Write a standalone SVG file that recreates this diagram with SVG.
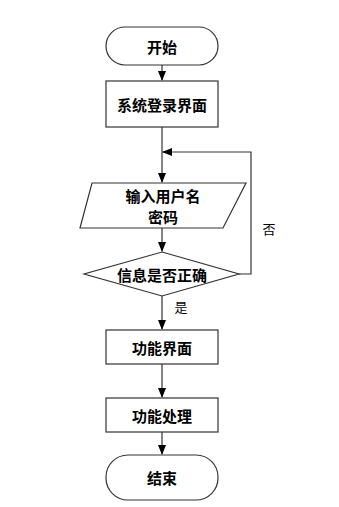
<svg xmlns="http://www.w3.org/2000/svg" width="339" height="507" viewBox="0 0 339 507">
<style>
.s{fill:#fff;stroke:#333;stroke-width:1.2}
.t{font-family:"Noto Sans CJK SC","Noto Sans",sans-serif;font-size:15px;font-weight:bold;fill:#000;text-anchor:middle;dominant-baseline:central}
.l{font-family:"Noto Sans CJK SC","Noto Sans",sans-serif;font-size:13px;fill:#000;text-anchor:middle;dominant-baseline:central}
.c{fill:none;stroke:#333;stroke-width:1.2}
</style>
<defs>
<marker id="a" markerWidth="10" markerHeight="10" refX="9" refY="5" orient="auto" markerUnits="userSpaceOnUse">
<path d="M0,1 L10,5 L0,9 Z" fill="#000"/>
</marker>
</defs>
<rect width="339" height="507" fill="#fff"/>
<g id="connectors">
<line class="c" x1="162" y1="65" x2="162" y2="80" marker-end="url(#a)"/>
<line class="c" x1="162" y1="127" x2="162" y2="182" marker-end="url(#a)"/>
<polyline class="c" points="239,274 251,274 251,152 163,152" marker-end="url(#a)"/>
<line class="c" x1="162" y1="228" x2="162" y2="251" marker-end="url(#a)"/>
<line class="c" x1="162" y1="296" x2="162" y2="329" marker-end="url(#a)"/>
<line class="c" x1="162" y1="364" x2="162" y2="397" marker-end="url(#a)"/>
<line class="c" x1="162" y1="432" x2="162" y2="454" marker-end="url(#a)"/>
<text class="l" x="269" y="228">否</text>
<text class="l" x="181" y="306">是</text>
</g>
<g id="start">
<rect class="s" x="106" y="27" width="112" height="38" rx="19"/>
<text class="t" x="162" y="46">开始</text>
</g>
<g id="login">
<rect class="s" x="106" y="81" width="112" height="46"/>
<text class="t" x="162" y="104">系统登录界面</text>
</g>
<g id="input">
<polygon class="s" points="92,183 246,183 223,228 80,228"/>
<text class="t" x="163" y="195">输入用户名</text>
<text class="t" x="163" y="216">密码</text>
</g>
<g id="check">
<polygon class="s" points="162,252 239,274 162,296 84,274"/>
<text class="t" x="162" y="274">信息是否正确</text>
</g>
<g id="func">
<rect class="s" x="106" y="330" width="112" height="34"/>
<text class="t" x="162" y="347">功能界面</text>
</g>
<g id="proc">
<rect class="s" x="106" y="398" width="112" height="34"/>
<text class="t" x="162" y="415">功能处理</text>
</g>
<g id="end">
<rect class="s" x="106" y="455" width="112" height="45" rx="22"/>
<text class="t" x="162" y="477">结束</text>
</g>
</svg>
